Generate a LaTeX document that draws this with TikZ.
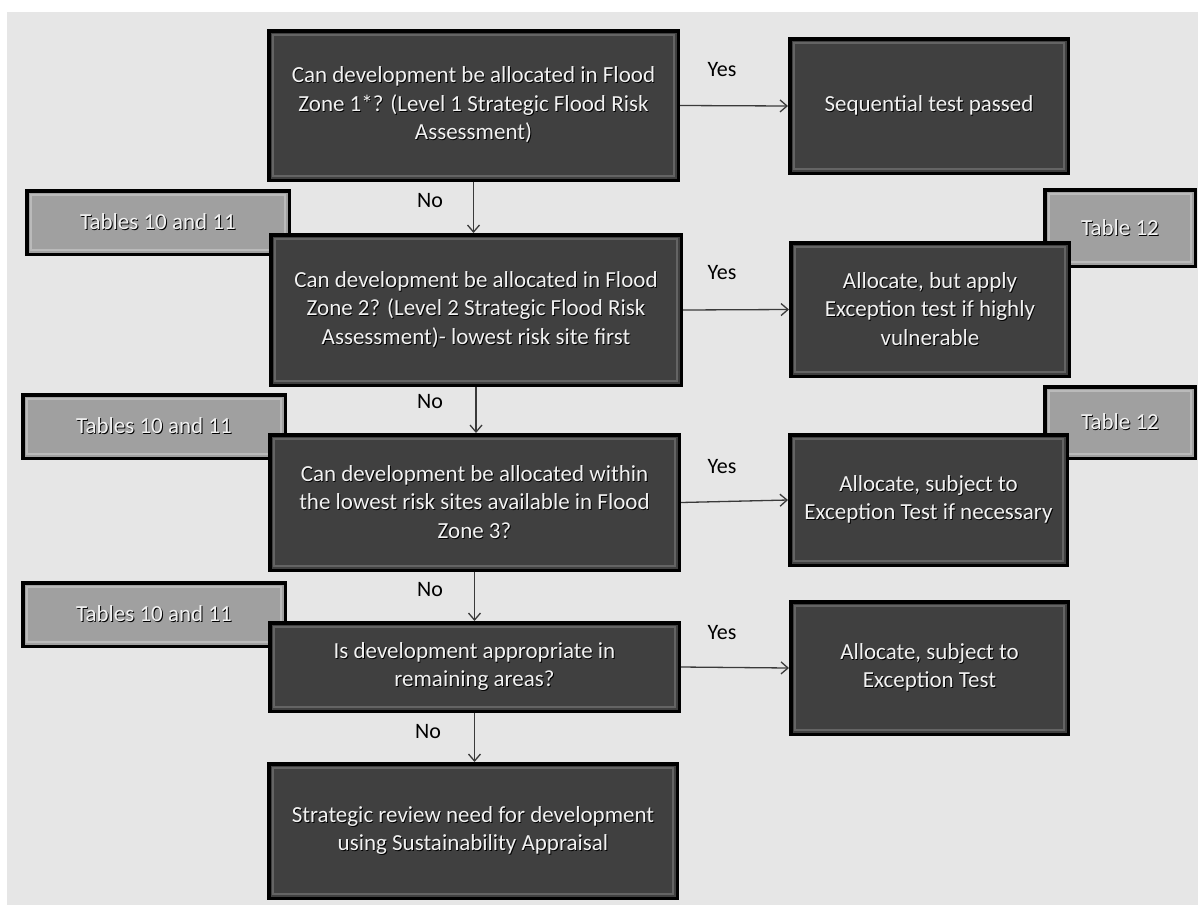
\documentclass[tikz,border=0pt]{standalone}
\usepackage{fontspec}
\setmainfont{Carlito}
\usetikzlibrary{arrows.meta}

\definecolor{bgcol}{HTML}{E6E6E6}
\definecolor{boxfill}{HTML}{404040}
\definecolor{boxedge}{HTML}{646464}
\definecolor{boxtext}{HTML}{F2F2F2}
\definecolor{tagfill}{HTML}{A0A0A0}
\definecolor{tagedge}{HTML}{BABABA}
\definecolor{linkcol}{HTML}{3A3A3A}

% light text with a dark drop shadow
\newcommand\lit[1]{\leavevmode\rlap{\kern0.9pt\raisebox{-0.9pt}{\textcolor{black}{#1}}}#1}

\tikzset{
  panel/.style={draw=black, line width=3.5pt, inner sep=0pt, align=center,
    text=boxtext, font=\fontsize{23}{28.5}\selectfont,
    path picture={\draw[#1, line width=2pt]
      ([shift={(3.8pt,3.8pt)}]path picture bounding box.south west) rectangle
      ([shift={(-3.8pt,-3.8pt)}]path picture bounding box.north east);}},
  stepbox/.style={panel=boxedge, fill=boxfill},
  tagbox/.style={panel=tagedge, fill=tagfill},
  link/.style={draw=linkcol, line width=1.3pt, -{Straight Barb[length=7pt,width=12pt]}},
  lbl/.style={text=black, inner sep=0pt, font=\fontsize{22}{26}\selectfont},
}

\begin{document}
\begin{tikzpicture}[x=1pt,y=-1pt]
  \useasboundingbox (0,0) rectangle (1198,905);
  \fill[bgcol] (7,12) rectangle (1198,905);

  % reference tags (behind the question boxes)
  \node[tagbox, minimum width=262.5pt, minimum height=63.5pt] (t1) at (158,222.5) {\lit{Tables 10 and 11}};
  \node[tagbox, minimum width=262.5pt, minimum height=63.5pt] (t2) at (154,426.5) {\lit{Tables 10 and 11}};
  \node[tagbox, minimum width=262.5pt, minimum height=63.5pt] (t3) at (154,614.5) {\lit{Tables 10 and 11}};
  \node[tagbox, minimum width=150.5pt, minimum height=76.5pt] (u1) at (1120,228) {\lit{Table 12}};
  \node[tagbox, minimum width=150.5pt, minimum height=71.5pt] (u2) at (1120,422.5) {\lit{Table 12}};

  % questions
  \node[stepbox, minimum width=409.5pt, minimum height=149.5pt] (q1) at (473.5,105.5)
    {\lit{Can development be allocated in Flood}\\\lit{Zone 1*? (Level 1 Strategic Flood Risk}\\\lit{Assessment)}};
  \node[stepbox, minimum width=410.5pt, minimum height=150.5pt] (q2) at (476,310)
    {\lit{Can development be allocated in Flood}\\\lit{Zone 2? (Level 2 Strategic Flood Risk}\\\lit{Assessment)- lowest risk site first}};
  \node[stepbox, minimum width=409.5pt, minimum height=135.5pt] (q3) at (474.5,502.5)
    {\lit{Can development be allocated within}\\\lit{the lowest risk sites available in Flood}\\\lit{Zone 3?}};
  \node[stepbox, minimum width=409.5pt, minimum height=88.5pt] (q4) at (474.5,667)
    {\lit{Is development appropriate in}\\\lit{remaining areas?}};
  \node[stepbox, minimum width=408.5pt, minimum height=134.5pt] (q5) at (473,831)
    {\lit{Strategic review need for development}\\\lit{using Sustainability Appraisal}};

  % outcomes
  \node[stepbox, minimum width=278.5pt, minimum height=134.5pt] (s1) at (929,106)
    {\lit{Sequential test passed}};
  \node[stepbox, minimum width=278.5pt, minimum height=133.5pt] (r2) at (930,309.5)
    {\lit{Allocate, but apply}\\\lit{Exception test if highly}\\\lit{vulnerable}};
  \node[stepbox, minimum width=277.5pt, minimum height=130.5pt] (r3) at (928.5,500)
    {\lit{Allocate, subject to}\\\lit{Exception Test if necessary}};
  \node[stepbox, minimum width=277.5pt, minimum height=132.5pt] (r4) at (929.5,668)
    {\lit{Allocate, subject to}\\\lit{Exception Test}};

  % connectors
  \draw[link] (q1.east) -- (s1.west);
  \draw[link] (q2.east) -- (r2.west);
  \draw[link] (q3.east) -- (r3.west);
  \draw[link] (q4.east) -- (r4.west);
  \draw[link] (q1.south) -- (q1.south |- q2.north);
  \draw[link] (q2.south) -- (q2.south |- q3.north);
  \draw[link] (q3.south) -- (q3.south |- q4.north);
  \draw[link] (q4.south) -- (q4.south |- q5.north);

  % branch labels
  \node[lbl] (y1) at (722,70) {Yes};
  \node[lbl] (y2) at (722,273) {Yes};
  \node[lbl] (y3) at (722,467) {Yes};
  \node[lbl] (y4) at (722,633) {Yes};
  \node[lbl] (n1) at (430,201) {No};
  \node[lbl] (n2) at (430,402) {No};
  \node[lbl] (n3) at (430,590) {No};
  \node[lbl] (n4) at (428,732) {No};
\end{tikzpicture}
\end{document}
